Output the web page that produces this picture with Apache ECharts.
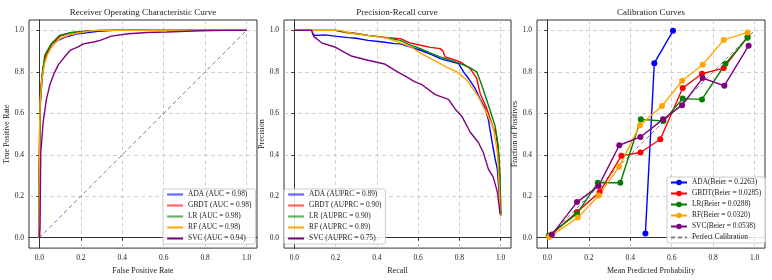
<!DOCTYPE html>
<html>
<head>
<meta charset="utf-8">
<script src="https://cdn.jsdelivr.net/npm/echarts@6/dist/echarts.min.js"></script>
<style>
  html, body { margin: 0; padding: 0; background: #fff; }
  #main { width: 772px; height: 280px; }
</style>
</head>
<body>
<div id="main"></div>
<script>
var chartDom = document.getElementById('main');
var myChart = echarts.init(chartDom);

// ---- data ----
const tickValues = [0, 0.2, 0.4, 0.6, 0.8, 1.0];
const models = ['ADA', 'GBDT', 'LR', 'RF', 'SVC'];
const colors = ['#0000ff', '#ff0000', '#008000', '#ffa500', '#800080'];
const aucScores = ['0.98', '0.98', '0.98', '0.98', '0.94'];
const auprcScores = ['0.89', '0.90', '0.90', '0.89', '0.75'];
const brierScores = ['0.2263', '0.0285', '0.0288', '0.0320', '0.0538'];

// ROC: [fpr, tpr]
const rocADA = [[0, 0], [0, 0.3], [0.003, 0.6], [0.008, 0.72], [0.015, 0.8], [0.03, 0.87], [0.05, 0.915], [0.082, 0.948], [0.122, 0.966], [0.187, 0.984], [0.283, 0.995], [0.36, 1], [1, 1]];
const rocGBDT = [[0, 0], [0, 0.4], [0.003, 0.66], [0.01, 0.75], [0.02, 0.83], [0.035, 0.89], [0.06, 0.935], [0.1, 0.972], [0.15, 0.988], [0.22, 0.996], [0.3, 1], [1, 1]];
const rocLR = [[0, 0], [0, 0.35], [0.004, 0.64], [0.01, 0.72], [0.018, 0.82], [0.026, 0.88], [0.058, 0.936], [0.098, 0.976], [0.154, 0.99], [0.26, 0.998], [0.33, 1], [1, 1]];
const rocRF = [[0, 0], [0, 0.45], [0.004, 0.66], [0.012, 0.76], [0.025, 0.84], [0.04, 0.885], [0.065, 0.93], [0.1, 0.96], [0.15, 0.98], [0.2, 0.99], [0.27, 1], [1, 1]];
const rocSVC = [[0, 0], [0.003, 0.05], [0.005, 0.25], [0.007, 0.41], [0.018, 0.555], [0.034, 0.667], [0.05, 0.735], [0.07, 0.79], [0.092, 0.835], [0.12, 0.87], [0.15, 0.905], [0.187, 0.92], [0.212, 0.935], [0.267, 0.945], [0.293, 0.952], [0.347, 0.972], [0.43, 0.984], [0.52, 0.99], [0.614, 0.992], [0.775, 0.998], [0.9, 1], [1, 1]];
const rocDiag = [[0, 0], [1, 1]];

// PR: [recall, precision]
const prADA = [[0, 1], [0.085, 1], [0.09, 0.98], [0.1, 0.976], [0.15, 0.978], [0.196, 0.972], [0.26, 0.965], [0.3, 0.962], [0.357, 0.952], [0.42, 0.945], [0.486, 0.936], [0.514, 0.935], [0.56, 0.92], [0.611, 0.904], [0.66, 0.885], [0.707, 0.864], [0.75, 0.852], [0.796, 0.84], [0.82, 0.8], [0.844, 0.768], [0.876, 0.72], [0.9, 0.67], [0.924, 0.625], [0.94, 0.571], [0.956, 0.475], [0.973, 0.38], [0.984, 0.33], [0.99, 0.25], [1, 0.108]];
const prGBDT = [[0, 1], [0.2, 1], [0.25, 0.99], [0.3, 0.985], [0.357, 0.976], [0.45, 0.965], [0.514, 0.96], [0.56, 0.94], [0.611, 0.928], [0.66, 0.918], [0.707, 0.912], [0.72, 0.9], [0.731, 0.872], [0.77, 0.86], [0.804, 0.848], [0.852, 0.816], [0.884, 0.768], [0.9, 0.697], [0.932, 0.625], [0.964, 0.529], [0.977, 0.507], [0.993, 0.38], [1, 0.17], [1, 0.108]];
const prLR = [[0, 1], [0.2, 1], [0.26, 0.99], [0.357, 0.976], [0.45, 0.964], [0.514, 0.952], [0.56, 0.93], [0.611, 0.912], [0.66, 0.89], [0.707, 0.872], [0.76, 0.855], [0.804, 0.84], [0.85, 0.82], [0.884, 0.8], [0.908, 0.737], [0.94, 0.641], [0.973, 0.539], [0.988, 0.443], [0.997, 0.284], [1, 0.108]];
const prRF = [[0, 1], [0.22, 1], [0.28, 0.985], [0.357, 0.976], [0.45, 0.962], [0.514, 0.94], [0.566, 0.92], [0.611, 0.89], [0.691, 0.848], [0.74, 0.822], [0.788, 0.8], [0.836, 0.76], [0.892, 0.68], [0.932, 0.6], [0.964, 0.53], [0.984, 0.411], [0.993, 0.252], [0.997, 0.108]];
const prSVC = [[0, 1], [0.084, 1], [0.095, 0.97], [0.108, 0.96], [0.132, 0.94], [0.196, 0.92], [0.25, 0.89], [0.28, 0.875], [0.357, 0.856], [0.437, 0.838], [0.5, 0.8], [0.54, 0.778], [0.582, 0.753], [0.619, 0.738], [0.683, 0.69], [0.747, 0.667], [0.78, 0.62], [0.812, 0.585], [0.852, 0.51], [0.892, 0.459], [0.916, 0.411], [0.94, 0.332], [0.964, 0.292], [0.984, 0.22], [0.997, 0.116]];

// Calibration: [mean predicted, fraction of positives]
const calADA = [[0.473, 0.021], [0.516, 0.842], [0.606, 0.998]];
const calGBDT = [[0.012, 0.01], [0.143, 0.124], [0.252, 0.22], [0.357, 0.395], [0.449, 0.411], [0.545, 0.475], [0.653, 0.722], [0.746, 0.791], [0.851, 0.818], [0.966, 0.97]];
const calLR = [[0.006, 0.01], [0.143, 0.116], [0.243, 0.265], [0.352, 0.265], [0.451, 0.571], [0.56, 0.563], [0.653, 0.671], [0.746, 0.667], [0.859, 0.839], [0.966, 0.965]];
const calRF = [[0.008, 0.003], [0.147, 0.097], [0.248, 0.204], [0.346, 0.342], [0.447, 0.543], [0.553, 0.635], [0.65, 0.757], [0.749, 0.834], [0.851, 0.954], [0.966, 0.99]];
const calSVC = [[0.022, 0.015], [0.143, 0.172], [0.247, 0.249], [0.347, 0.446], [0.449, 0.486], [0.558, 0.571], [0.65, 0.639], [0.749, 0.77], [0.854, 0.733], [0.971, 0.926]];
const calPerfect = [[0, 0], [1, 1]];

const rocData = [rocADA, rocGBDT, rocLR, rocRF, rocSVC];
const prData = [prADA, prGBDT, prLR, prRF, prSVC];
const calData = [calADA, calGBDT, calLR, calRF, calSVC];

const FONT = '"Liberation Serif", "Times New Roman", serif';

function makeAxis(gridIndex, name, nameGap, isY) {
    return {
        type: 'value',
        gridIndex: gridIndex,
        min: -0.05,
        max: 1.05,
        name: name,
        nameLocation: 'middle',
        nameGap: nameGap,
        nameTextStyle: { fontFamily: FONT, fontSize: 8, color: '#222' },
        axisLine: { show: true, lineStyle: { color: '#333', width: 1 } },
        axisTick: { show: true, inside: false, length: 3, customValues: tickValues, lineStyle: { color: '#333' } },
        axisLabel: {
            customValues: tickValues,
            margin: isY ? 5 : 6,
            fontFamily: FONT, fontSize: 7.5, color: '#222',
            formatter: v => v.toFixed(1)
        },
        splitLine: { show: true, lineStyle: { color: '#c4c4c4', type: [4, 3], width: 0.8 } }
    };
}

function lineSeries(name, data, color, xi, withSymbol) {
    return {
        name: name,
        type: 'line',
        xAxisIndex: xi,
        yAxisIndex: xi,
        data: data,
        symbol: withSymbol ? 'circle' : 'none',
        symbolSize: 6,
        showSymbol: !!withSymbol,
        lineStyle: { color: color, width: 1.4 },
        itemStyle: { color: color },
        emphasis: { disabled: true },
        z: 3
    };
}

function dashSeries(name, data, xi) {
    return {
        name: name,
        type: 'line',
        xAxisIndex: xi,
        yAxisIndex: xi,
        data: data,
        symbol: 'none',
        lineStyle: { color: '#808080', width: 1, type: [4, 3] },
        itemStyle: { color: '#808080' },
        emphasis: { disabled: true },
        z: 2
    };
}

const rocNames = models.map((m, i) => m + ' (AUC = ' + aucScores[i] + ')');
const prNames = models.map((m, i) => m + ' (AUPRC = ' + auprcScores[i] + ')');
const calNames = models.map((m, i) => m + '(Beier = ' + brierScores[i] + ')');

var series = [];
series.push(dashSeries('roc_diag', rocDiag, 0));
models.forEach((m, i) => series.push(lineSeries(rocNames[i], rocData[i], colors[i], 0, false)));
models.forEach((m, i) => series.push(lineSeries(prNames[i], prData[i], colors[i], 1, false)));
models.forEach((m, i) => series.push(lineSeries(calNames[i], calData[i], colors[i], 2, true)));
series.push(dashSeries('Perfect Calibration', calPerfect, 2));

function legendBox(left, top, data) {
    return {
        orient: 'vertical',
        left: left,
        top: top,
        data: data,
        itemWidth: 16,
        itemHeight: 7,
        itemGap: 4,
        padding: [2, 4, 2, 3],
        backgroundColor: 'rgba(255,255,255,0.85)',
        borderColor: '#cccccc',
        borderWidth: 1,
        borderRadius: 2,
        selectedMode: false,
        textStyle: { fontFamily: FONT, fontSize: 7.4, color: '#222' }
    };
}

// legend entries drawn as plain lines (hide the default circle)
function lineOnlyLegend(names) {
    return names.map((n, i) => ({
        name: n,
        itemStyle: { opacity: 0 },
        lineStyle: i < 3 ? { width: 2.2, opacity: 0.6 } : { width: 2 }
    }));
}

var calLegend = calNames.map(n => ({ name: n }));
calLegend.push({ name: 'Perfect Calibration', itemStyle: { opacity: 0 } });

var option = {
    backgroundColor: '#ffffff',
    animation: false,
    title: [
        { text: 'Receiver Operating Characteristic Curve', left: 143, top: 8, textAlign: 'center', padding: 0,
          textStyle: { fontFamily: FONT, fontSize: 9, fontWeight: 'normal', color: '#222' } },
        { text: 'Precision-Recall curve', left: 397, top: 8, textAlign: 'center', padding: 0,
          textStyle: { fontFamily: FONT, fontSize: 9, fontWeight: 'normal', color: '#222' } },
        { text: 'Calibration Curves', left: 651, top: 8, textAlign: 'center', padding: 0,
          textStyle: { fontFamily: FONT, fontSize: 9, fontWeight: 'normal', color: '#222' } }
    ],
    grid: [
        { left: 29, top: 20, width: 228, height: 230, show: true, borderColor: '#333', borderWidth: 1, backgroundColor: 'transparent' },
        { left: 284, top: 20, width: 227, height: 230, show: true, borderColor: '#333', borderWidth: 1, backgroundColor: 'transparent' },
        { left: 537, top: 20, width: 228, height: 230, show: true, borderColor: '#333', borderWidth: 1, backgroundColor: 'transparent' }
    ],
    xAxis: [
        makeAxis(0, 'False Positive Rate', 13, false),
        makeAxis(1, 'Recall', 13, false),
        makeAxis(2, 'Mean Predicted Probability', 13, false)
    ],
    yAxis: [
        makeAxis(0, 'True Positive Rate', 18, true),
        makeAxis(1, 'Precision', 18, true),
        makeAxis(2, 'Fraction of Positives', 18, true)
    ],
    legend: [
        legendBox(163, 189, lineOnlyLegend(rocNames)),
        legendBox(284, 189, lineOnlyLegend(prNames)),
        legendBox(667, 177, calLegend)
    ],
    series: series
};

option && myChart.setOption(option);
</script>
</body>
</html>
